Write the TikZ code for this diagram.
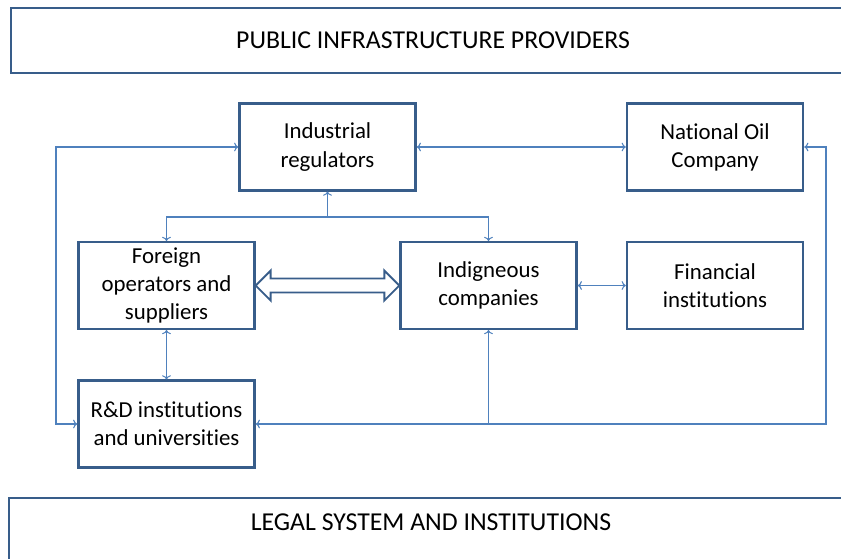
\documentclass[tikz,border=0pt]{standalone}
\usepackage{fontspec}
\setmainfont[Ligatures=NoCommon]{Carlito}
\usepackage{tikz}
\usetikzlibrary{arrows.meta, calc}
\definecolor{linkblue}{RGB}{79,129,189}
\definecolor{boxblue}{RGB}{56,93,138}

\begin{document}
\begin{tikzpicture}[
    x=0.03cm, y=-0.03cm,
    actor/.style={rectangle, draw=boxblue, line width=2pt, fill=white,
                  minimum width=5.28cm, minimum height=2.6cm, inner sep=0pt,
                  align=center, font=\fontsize{19.5}{24}\selectfont},
    banner/.style={rectangle, draw=boxblue, line width=1.6pt, fill=white,
                   minimum width=25.3cm, inner sep=0pt,
                   font=\fontsize{22}{26}\selectfont},
    link/.style={line width=0.9pt, color=linkblue,
                 arrows={Straight Barb[length=6.8pt,width=8.5pt]-Straight Barb[length=6.8pt,width=8.5pt]}},
    fat/.style={draw=boxblue, line width=1.6pt, fill=white, line join=miter}
]
\useasboundingbox (0,0) rectangle (841,558);
\clip (0,0) rectangle (841,558);

% outer frame: infrastructure on top, legal system at the bottom
\node[banner, minimum height=1.95cm] (PIP) at (433,40.5) {PUBLIC INFRASTRUCTURE PROVIDERS};
\node[banner, anchor=north, minimum height=2.25cm, text height=0.5cm, text depth=0.78cm]
    (LSI) at (431,497) {LEGAL SYSTEM AND INSTITUTIONS};

% actors
\node[actor] (IR)  at (327.5,147)   {Industrial\\regulators};
\node[actor] (NOC) at (715,147)     {National Oil\\Company};
\node[actor] (FO)  at (166.5,285.5) {Foreign\\operators and\\suppliers};
\node[actor] (IC)  at (488.5,285.5) {Indigneous\\companies};
\node[actor] (FI)  at (715,285.5)   {Financial\\institutions};
\node[actor] (RD)  at (166.5,424)   {R\&D institutions\\and universities};

% corner points of the feedback loops
\coordinate (lft)   at (56,147);
\coordinate (rgt)   at (826,424);
\coordinate (split) at (327.5,217);

\draw[link, <->] (IR) -- (NOC);
\draw[link, <->] (IR.west) -- (lft) |- (RD.west);
\draw[link, <->] (RD.east) -- (rgt) |- (NOC.east);
\draw[link, ->]  (IC.south |- rgt) -- (IC.south);

\draw[link, ->]  (split) -- (IR.south);
\draw[link, <->] (FO.north) |- (split) -| (IC.north);

\draw[link, <->] (IC) -- (FI);
\draw[link, <->] (FO) -- (RD);

% two-way block arrow between foreign and local firms
\draw[fat] (FO.east) -- ++(15,-15) -- ++(0,8) -- ($(IC.west)+(-15,-7)$) -- ++(0,-8)
    -- (IC.west) -- ++(-15,15) -- ++(0,-8) -- ($(FO.east)+(15,7)$) -- ++(0,8) -- cycle;

\end{tikzpicture}
\end{document}
